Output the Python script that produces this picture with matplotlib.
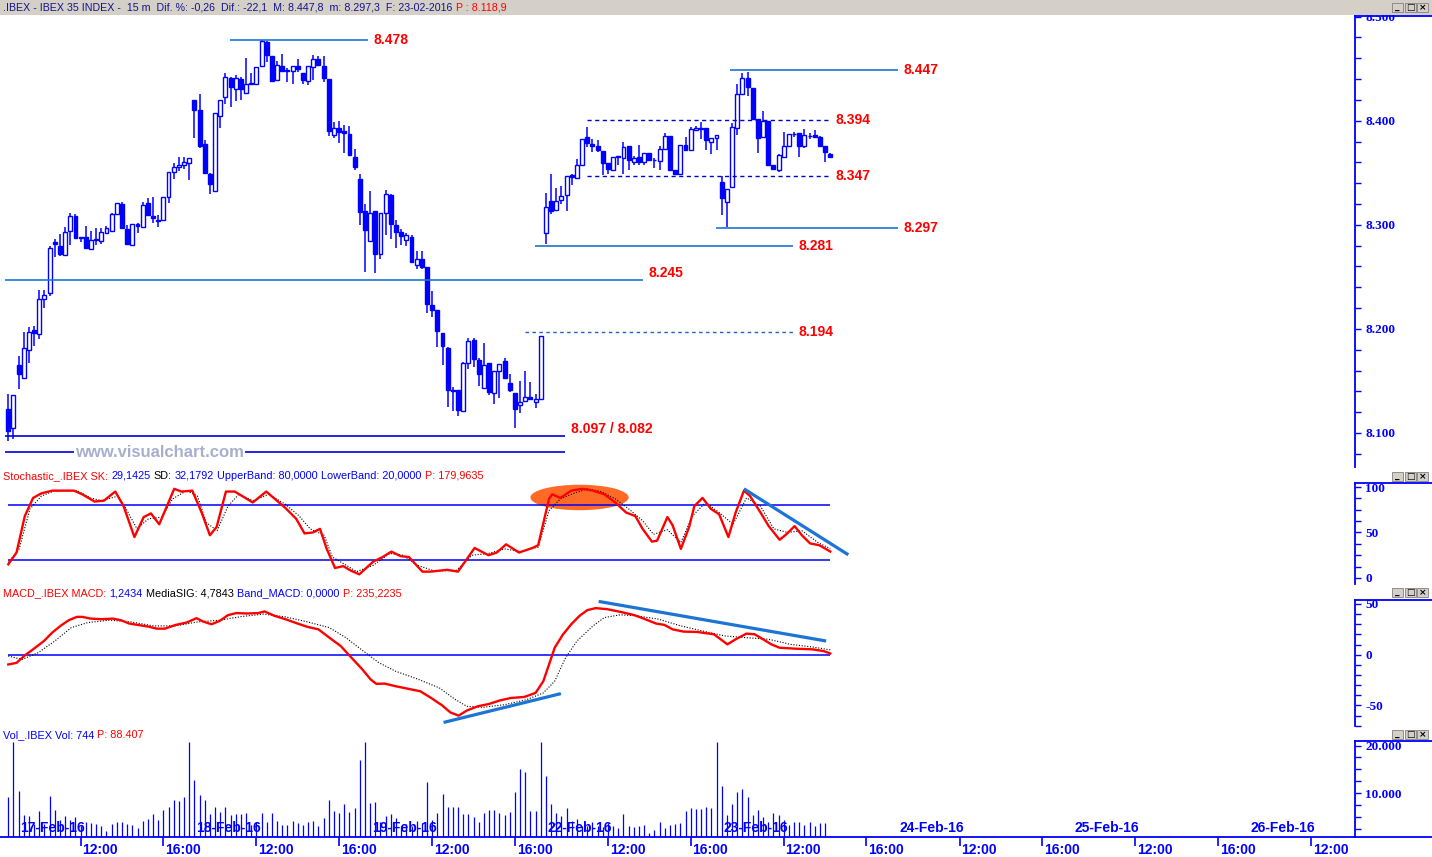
import numpy as np
import matplotlib
matplotlib.use("Agg")
import matplotlib.pyplot as plt
from matplotlib.patches import Rectangle, Ellipse
from matplotlib.lines import Line2D
from matplotlib.ticker import MultipleLocator, FuncFormatter

plt.rcParams['font.family'] = ['Liberation Sans', 'DejaVu Sans']

# ---- datos (velas de 15 m, IBEX 35, 16-feb 17:15 -> 23-feb 14:30) ----
opens = [8123, 8105, 8165, 8153, 8180, 8199, 8195, 8229, 8234, 8283, 8280, 8271, 8294, 8308, 8288, 8288,
         8277, 8285, 8284, 8292, 8294, 8310, 8320, 8296, 8281, 8301, 8298, 8321, 8308, 8305, 8305, 8327,
         8351, 8356, 8357, 8359, 8420, 8410, 8378, 8349, 8332, 8405, 8423, 8441, 8430, 8440, 8427, 8436,
         8435, 8453, 8476, 8462, 8439, 8453, 8448, 8448, 8453, 8446, 8438, 8452, 8459, 8453, 8440, 8386,
         8393, 8390, 8387, 8365, 8344, 8313, 8284, 8313, 8272, 8311, 8329, 8300, 8293, 8285, 8288, 8261,
         8267, 8259, 8223, 8218, 8196, 8182, 8141, 8141, 8121, 8167, 8189, 8170, 8143, 8167, 8138, 8160,
         8169, 8148, 8138, 8127, 8131, 8135, 8130, 8133, 8292, 8323, 8314, 8324, 8329, 8348, 8345, 8357,
         8384, 8378, 8376, 8371, 8359, 8353, 8365, 8364, 8376, 8360, 8365, 8360, 8369, 8362, 8361, 8373,
         8385, 8353, 8349, 8377, 8372, 8391, 8392, 8393, 8380, 8383, 8341, 8322, 8336, 8393, 8426, 8441,
         8431, 8402, 8384, 8400, 8357, 8353, 8365, 8376, 8387, 8388, 8376, 8385, 8386, 8384, 8376, 8368]
highs = [8137, 8136, 8174, 8197, 8202, 8203, 8237, 8237, 8280, 8286, 8291, 8298, 8311, 8310, 8288, 8299,
         8294, 8297, 8297, 8299, 8311, 8321, 8322, 8300, 8301, 8302, 8322, 8326, 8327, 8309, 8327, 8351,
         8359, 8365, 8365, 8364, 8420, 8426, 8381, 8350, 8407, 8420, 8446, 8442, 8444, 8442, 8460, 8446,
         8452, 8478, 8477, 8462, 8457, 8464, 8451, 8453, 8459, 8446, 8453, 8463, 8462, 8462, 8440, 8399,
         8400, 8396, 8395, 8373, 8349, 8320, 8332, 8313, 8311, 8333, 8330, 8305, 8296, 8292, 8290, 8275,
         8275, 8259, 8236, 8218, 8196, 8183, 8144, 8141, 8168, 8191, 8191, 8172, 8186, 8167, 8160, 8166,
         8172, 8157, 8138, 8150, 8160, 8149, 8137, 8193, 8331, 8349, 8335, 8337, 8347, 8349, 8363, 8382,
         8394, 8382, 8381, 8371, 8359, 8365, 8366, 8380, 8376, 8366, 8377, 8369, 8369, 8364, 8376, 8388,
         8385, 8353, 8377, 8384, 8394, 8395, 8399, 8393, 8383, 8386, 8347, 8334, 8398, 8435, 8446, 8447,
         8431, 8402, 8409, 8400, 8357, 8368, 8389, 8387, 8389, 8388, 8392, 8388, 8391, 8385, 8376, 8369]
lows = [8092, 8094, 8142, 8153, 8167, 8184, 8190, 8220, 8232, 8269, 8270, 8271, 8281, 8287, 8283, 8278,
        8277, 8281, 8282, 8292, 8294, 8310, 8296, 8281, 8281, 8292, 8298, 8308, 8302, 8298, 8305, 8321,
        8344, 8352, 8354, 8343, 8383, 8374, 8349, 8330, 8332, 8393, 8416, 8413, 8419, 8420, 8427, 8435,
        8435, 8453, 8456, 8437, 8439, 8448, 8437, 8435, 8447, 8435, 8434, 8439, 8454, 8437, 8385, 8383,
        8379, 8369, 8366, 8353, 8300, 8255, 8284, 8254, 8267, 8290, 8286, 8278, 8281, 8280, 8264, 8258,
        8258, 8215, 8211, 8183, 8165, 8125, 8121, 8116, 8121, 8161, 8163, 8145, 8143, 8136, 8128, 8134,
        8153, 8139, 8105, 8119, 8131, 8133, 8124, 8133, 8282, 8310, 8314, 8320, 8313, 8338, 8345, 8357,
        8375, 8370, 8370, 8348, 8349, 8353, 8357, 8349, 8353, 8357, 8357, 8357, 8362, 8355, 8353, 8373,
        8353, 8348, 8349, 8372, 8372, 8390, 8382, 8372, 8368, 8372, 8309, 8298, 8336, 8386, 8426, 8424,
        8402, 8369, 8384, 8357, 8354, 8351, 8365, 8376, 8384, 8365, 8374, 8382, 8383, 8376, 8360, 8364]
closes = [8102, 8136, 8157, 8182, 8197, 8196, 8229, 8233, 8278, 8282, 8272, 8293, 8308, 8287, 8287, 8278,
          8285, 8286, 8293, 8297, 8310, 8321, 8297, 8282, 8301, 8299, 8319, 8309, 8307, 8304, 8327, 8351,
          8356, 8357, 8360, 8364, 8410, 8376, 8350, 8339, 8407, 8420, 8442, 8432, 8441, 8430, 8435, 8435,
          8452, 8477, 8463, 8438, 8454, 8448, 8448, 8453, 8450, 8439, 8453, 8459, 8454, 8441, 8390, 8393,
          8389, 8388, 8367, 8356, 8312, 8295, 8311, 8272, 8311, 8330, 8301, 8293, 8289, 8290, 8264, 8267,
          8259, 8224, 8218, 8198, 8184, 8141, 8140, 8122, 8167, 8188, 8171, 8157, 8165, 8139, 8160, 8166,
          8153, 8141, 8123, 8130, 8135, 8133, 8133, 8193, 8317, 8313, 8323, 8328, 8347, 8346, 8357, 8382,
          8379, 8376, 8372, 8359, 8354, 8365, 8366, 8375, 8362, 8364, 8360, 8369, 8362, 8362, 8373, 8385,
          8353, 8349, 8377, 8372, 8392, 8393, 8393, 8381, 8383, 8386, 8326, 8334, 8394, 8426, 8441, 8432,
          8402, 8383, 8400, 8357, 8354, 8367, 8376, 8387, 8387, 8376, 8386, 8385, 8384, 8376, 8370, 8365]
volumes = [9180, 20700, 10430, 5360, 5220, 3490, 6260, 3490, 9390, 6470, 4320, 5220, 4320, 4870, 3140, 3830,
           3620, 3490, 3140, 2100, 3490, 3970, 3830, 3490, 3350, 2580, 4180, 4530, 5570, 4390, 6470, 6960,
           8550, 8340, 9180, 20700, 12720, 9590, 8550, 5570, 6960, 5910, 7100, 5360, 5570, 5570, 5710, 3280,
           3970, 5770, 3830, 5770, 4180, 3350, 3350, 4180, 3690, 3350, 3970, 4180, 3000, 4670, 8550, 6260,
           5770, 7650, 5910, 6750, 17020, 20700, 7990, 8140, 3830, 5080, 5570, 4670, 3140, 3490, 3140, 4180,
           3690, 12300, 4390, 5710, 9870, 6960, 6960, 6960, 5640, 5640, 4870, 3830, 5710, 6470, 6470, 5770,
           5360, 6050, 10290, 15070, 14380, 6260, 6260, 20700, 13550, 7790, 5770, 5220, 6750, 4180, 4530, 3140,
           3140, 3970, 3140, 2790, 3690, 3140, 2650, 5500, 3140, 2790, 3140, 3280, 1540, 2310, 3970, 2580,
           3280, 3490, 3620, 6260, 6750, 6610, 6610, 6960, 6750, 20700, 11470, 5360, 7790, 10220, 10910, 9180,
           5360, 6470, 4870, 3970, 5770, 5360, 4320, 3350, 3830, 3830, 3280, 3970, 3000, 3690, 3690, 744]

sk_x = [0, 1.6, 3.2, 4.8, 6.4, 8.5, 12.7, 14.3, 16.7, 18.5, 20.7, 22.3, 24.4, 26.2, 27.6, 29.2, 32.1, 33.5,
        35.6, 37.4, 39, 40.3, 42.1, 43.8, 47.3, 49.9, 53.6, 55.7, 57.3, 58.9, 60.3, 61.6, 63.2, 64.8, 66.3,
        67.9, 70.6, 72.4, 74.1, 75.9, 77.5, 80.1, 81.7, 84.9, 87, 90.2, 92.9, 94.5, 96.3, 98.8, 101.4, 102.5,
        104.6, 105.2, 106.8, 108.9, 111, 113.1, 115.3, 117.4, 119.5, 121.3, 122.7, 124.5, 125.5, 127.5,
        128.5, 130.1, 131.7, 132.7, 134.3, 135.9, 137.5, 139.3, 140.7, 142.3, 143.5, 145.5, 147.1, 149.2,
        150.5, 152.1, 153.5, 155.1, 156.9, 159]
sk_y = [15, 28, 68, 88, 93, 96, 96, 92, 84, 85, 95, 79, 45, 67, 71, 59, 98, 95, 96, 72, 47, 56, 95, 95, 83,
        95, 77, 65, 49, 50, 54, 32, 11, 13, 8, 4, 18, 23, 29, 24, 23, 7, 7, 9, 7, 33, 25, 28, 37, 28, 33, 36,
        87, 92, 88, 96, 98, 96, 92, 83, 72, 68, 54, 40, 41, 67, 58, 32, 56, 79, 88, 76, 70, 45, 72, 96, 90,
        72, 57, 42, 48, 57, 47, 38, 36, 29.1]
sd_x = [0, 2.1, 4.2, 6.4, 9, 13.3, 15.9, 18, 21.2, 22.8, 24.9, 27.1, 29.7, 31.8, 34.5, 36.6, 38.3, 40.4,
        42.5, 44.6, 47.3, 50.4, 53.6, 56.3, 58.4, 61.1, 62.7, 64.8, 67.4, 70.6, 73.8, 76.4, 79.1, 82.3, 86.6,
        89.7, 92.9, 96, 99.2, 102.5, 104.6, 106.8, 109.4, 112, 114.7, 117.4, 120, 122.7, 124.8, 127.5, 130.1,
        132.3, 134.9, 137.5, 140.2, 142.8, 145.5, 148.1, 150.8, 153.5, 156.6, 159]
sd_y = [17, 32, 76, 90, 96, 96, 88, 85, 90, 76, 54, 65, 67, 87, 96, 90, 61, 52, 79, 92, 85, 92, 81, 68, 54,
        47, 23, 16, 7, 14, 27, 25, 14, 8, 8, 25, 27, 32, 29, 34, 74, 87, 93, 98, 95, 87, 76, 63, 48, 53, 39,
        68, 83, 72, 59, 88, 79, 54, 50, 52, 39, 32.2]

# MACD (rojo) y senal MediaSIG (punteado)
macd_x = [0, 1.6, 3.2, 4.8, 6.9, 8.5, 10.1, 11.7, 13.3, 14.3, 15.9, 18, 20.2, 21.8, 23.4, 25.5, 27.1, 28.7,
          30.3, 32.4, 34.5, 36.4, 37.7, 39.3, 40.9, 42.5, 44.1, 46.2, 48.3, 49.6, 51.5, 53.6, 55.8, 57.9, 60,
          62.1, 64.3, 66.4, 68.5, 70.1, 71.2, 72.8, 74.9, 77.5, 79.7, 81.8, 83.9, 85.5, 87.1, 88.7, 90.8, 93,
          95.1, 97.2, 99.8, 102, 103.5, 104.6, 105.7, 107.3, 108.9, 110.5, 112, 113.6, 115.8, 118.4, 121.1,
          123.2, 125.3, 126.9, 128.5, 130.6, 133.3, 136.5, 137.8, 139.1, 140.7, 142.8, 144.4, 146, 147.6,
          149.2, 152.4, 155.6, 157.7, 159]
macd_y = [-9.6, -8, -0.7, 5.3, 13.5, 21.8, 28.4, 34, 37.3, 37.3, 35.6, 35, 35.6, 34, 30.7, 29, 27.7, 25.7,
          25.7, 29.4, 31.7, 36, 32.7, 30, 33.3, 39, 41, 40.6, 41, 42.6, 38.3, 35, 31, 27.4, 25, 16.8, 8.6, -3,
          -14.5, -24.4, -28.7, -28.4, -31, -33.7, -36, -42.6, -49.8, -56.8, -60, -55, -50.8, -48.5, -45, -42.6,
          -41.6, -37.6, -26, -9.6, 7, 20, 30, 38.3, 43.9, 45.9, 44.9, 42.2, 39, 35, 30.7, 29.4, 25, 22.8, 22.4,
          20.1, 15.2, 10.2, 15.2, 20.8, 20.1, 15.2, 10.2, 6.9, 5.9, 5.3, 3.6, 1.24]
sig_x = [0, 2.7, 5.8, 9, 12.2, 15.4, 19.6, 23.8, 28.1, 32.4, 36.6, 40.9, 45.1, 49.4, 53.6, 57.9, 62.1, 65.3,
         68.5, 71.7, 74.9, 79.1, 83.4, 86.5, 88.7, 91.8, 96, 100.3, 103.5, 105.7, 107.8, 110, 113.1, 115.3,
         118.4, 121.6, 125.8, 130.1, 134.3, 138.6, 142.8, 147.1, 151.3, 155.6, 159]
sig_y = [-1.3, -4.6, 2, 13.5, 26.7, 31.7, 34, 32.3, 28.4, 28.4, 32.3, 34, 37.6, 40, 37.3, 32.3, 26.7, 16.8,
         4.3, -7.9, -16.2, -23.8, -32.7, -44.2, -50.8, -51.8, -49.2, -44.2, -37.6, -26, -3, 13.5, 28.4, 36.6,
         39.3, 38.3, 35, 28.4, 23.4, 18.5, 16.8, 15.2, 10.2, 7.6, 4.78]

# niveles marcados a mano en el grafico principal (valor rotulado y altura a la que esta trazada la linea)
levels = [8478, 8447, 8394, 8347, 8297, 8281, 8245, 8194]
level_drawn = [8478, 8449, 8401, 8347, 8297, 8280, 8247, 8197]
level_start = [42.9, 139.6, 111.9, 111.9, 136.9, 101.9, -0.6, 99.9]
level_end = [69.6, 172.1, 158.9, 158.9, 172.1, 151.8, 122.8, 151.8]
level_style = ['solid', 'solid', 'dashed', 'dashed', 'solid', 'solid', 'solid', 'dotted']
supports = [8097, 8082]

day_labels = ['17-Feb-16', '18-Feb-16', '19-Feb-16', '22-Feb-16',
              '23-Feb-16', '24-Feb-16', '25-Feb-16', '26-Feb-16']
BARS_DAY = 34
FIRST_DAY = 2
XMIN, XMAX = -1.6, 260.5

BLUE = '#0000ff'
LBLUE = '#1c74d4'
RED = '#ff0000'
W, H = 1432, 857

fig = plt.figure(figsize=(W / 100, H / 100), dpi=100)


def px_axes(left, top, right, bottom):
    return fig.add_axes([left / W, 1 - bottom / H, (right - left) / W, (bottom - top) / H])


def style(a, ymin, ymax, major, minor, fmt):
    a.set_ylim(ymin, ymax)
    for s in ['top', 'left', 'bottom']:
        a.spines[s].set_visible(False)
    a.spines['right'].set_color(BLUE)
    a.spines['right'].set_linewidth(1.3)
    a.yaxis.tick_right()
    a.yaxis.set_major_locator(MultipleLocator(major))
    a.yaxis.set_minor_locator(MultipleLocator(minor))
    a.yaxis.set_major_formatter(FuncFormatter(fmt))
    a.tick_params(axis='y', which='both', direction='out', length=4.5, width=1,
                  color=BLUE, labelcolor=BLUE, pad=3, labelsize=9.5)
    a.set_xticks([])
    a.set_xlim(XMIN, XMAX)
    for lab in a.get_yticklabels():
        lab.set_fontfamily('Liberation Serif')
        lab.set_fontweight('bold')


ax = px_axes(0, 16, 1355, 467)
ax_st = px_axes(0, 483, 1355, 584)
ax_md = px_axes(0, 600, 1355, 726)
ax_vo = px_axes(0, 741, 1355, 837)

style(ax, 8067.3, 8500.6, 100, 20, lambda v, p: f"{v / 1000:.3f}")
style(ax_st, -6.6, 104.4, 50, 12.5, lambda v, p: f"{v:.0f}")
style(ax_md, -70.2, 53.9, 50, 10, lambda v, p: f"{v:.0f}")
style(ax_vo, 737, 20950, 10000, 2500, lambda v, p: f"{int(v):,}".replace(',', '.'))

# ---- velas ----
idx = np.arange(len(opens))
ax.vlines(idx, lows, highs, color=BLUE, lw=1.1, zorder=2)
for i in idx:
    o, c = opens[i], closes[i]
    bull = c >= o
    ax.add_patch(Rectangle((i - 0.38, min(o, c)), 0.76, max(abs(c - o), 0.6),
                           facecolor='white' if bull else BLUE, edgecolor=BLUE, lw=1.0, zorder=3))

for lv, yd, x0, x1, ls in zip(levels, level_drawn, level_start, level_end, level_style):
    if ls == 'solid':
        ax.hlines(yd, x0, x1, color=LBLUE, lw=1.2, zorder=4)
    elif ls == 'dashed':
        ax.hlines(yd, x0, x1, color='#0000cc', lw=1.0, linestyles=(0, (3, 2.5)), zorder=4)
    else:
        ax.hlines(yd, x0, x1, color='#2060c0', lw=1.0, linestyles=(0, (2.5, 2.5)), zorder=4)
    va = 'bottom' if lv == 8245 else 'center'
    ax.text(x1 + 1.1, yd, f"{lv / 1000:.3f}", color=RED, fontsize=10, fontweight='bold',
            va=va, ha='left', zorder=5)

for lv in supports:
    ax.hlines(lv, -0.6, 107.7, color='#0000e0', lw=1.2, zorder=4)
ax.text(108.8, supports[0], f"{supports[0] / 1000:.3f} / {supports[1] / 1000:.3f}", color=RED,
        fontsize=10, fontweight='bold', va='bottom', ha='left', zorder=5)
ax.text(12.9, 8081.5, "www.visualchart.com", color='#a8afcc', fontsize=12, fontweight='bold',
        va='center', ha='left', zorder=6,
        bbox=dict(facecolor='white', edgecolor='none', pad=0.5))

# ---- estocastico ----
ax_st.add_patch(Ellipse((110.5, 88.5), 19, 28, facecolor='#ff6a26', edgecolor='none', zorder=1))
ax_st.hlines([80, 20], 0, 159, color=BLUE, lw=1.1, zorder=2)
ax_st.plot(sd_x, sd_y, color='black', lw=0.8, ls=(0, (1, 1.5)), zorder=3)
ax_st.plot(sk_x, sk_y, color=RED, lw=1.7, zorder=4)
ax_st.plot([142.3, 162.5], [98, 25.5], color=LBLUE, lw=2.3, zorder=5, solid_capstyle='butt')

# ---- MACD ----
ax_md.hlines(0, 0, 159, color=BLUE, lw=1.1, zorder=2)
ax_md.plot(sig_x, sig_y, color='black', lw=0.8, ls=(0, (1, 1.5)), zorder=3)
ax_md.plot(macd_x, macd_y, color=RED, lw=1.7, zorder=4)
ax_md.plot([114.2, 158.2], [52.5, 13.5], color=LBLUE, lw=2.3, zorder=5, solid_capstyle='butt')
ax_md.plot([84.2, 106.9], [-66.7, -38.3], color=LBLUE, lw=2.3, zorder=5, solid_capstyle='butt')

# ---- volumen y eje de tiempo ----
ax_vo.vlines(idx, 0, volumes, color=BLUE, lw=0.9, zorder=2)
ax_vo.spines['bottom'].set_visible(True)
ax_vo.spines['bottom'].set_color(BLUE)
ax_vo.spines['bottom'].set_linewidth(1.3)
days = np.arange(len(day_labels))
noon = FIRST_DAY + 12 + BARS_DAY * days
four = FIRST_DAY + 28 + BARS_DAY * days
ticks = np.sort(np.concatenate([noon, four]))
ticks = ticks[ticks < XMAX]
ax_vo.set_xticks(ticks)
ax_vo.set_xticklabels([])
ax_vo.tick_params(axis='x', direction='out', length=6.5, width=1.2, color=BLUE)
ax_vo.set_xlim(XMIN, XMAX)
xt = ax_vo.get_xaxis_transform()
for t in ticks:
    ax_vo.text(t + 0.35, -0.135, '12:00' if t in noon else '16:00', transform=xt, color=BLUE,
               fontsize=10, fontweight='bold', ha='left', va='center', clip_on=False)
for d, lab in zip(days, day_labels):
    ax_vo.text(FIRST_DAY + BARS_DAY * d + 0.3, 0.02, lab, transform=xt,
               color=BLUE, fontsize=10, fontweight='bold', ha='left', va='bottom', zorder=5)

# ---- cabeceras y marco ----
fig.add_artist(Rectangle((0, 1 - 15 / H), 1, 15 / H, transform=fig.transFigure,
                         facecolor='#d4d0c8', edgecolor='none', zorder=8))
for y in [16, 483, 600, 741, 837]:
    fig.add_artist(Line2D([1355 / W, 1], [1 - y / H] * 2, transform=fig.transFigure,
                          color=BLUE, lw=1.3, zorder=9))


def buttons(y):
    for k, sym in enumerate(['_', '□', '×']):
        x0 = 1392 + k * 12.5
        fig.add_artist(Rectangle((x0 / W, 1 - (y + 9) / H), 11 / W, 9 / H, transform=fig.transFigure,
                                 facecolor='#d4d0c8', edgecolor='#808080', lw=0.6, zorder=10))
        fig.text((x0 + 5.5) / W, 1 - (y + 4.3) / H, sym, fontsize=6.5, fontweight='bold',
                 ha='center', va='center', color='black', zorder=11, family='DejaVu Sans')


for y in [3, 472, 588, 730]:
    buttons(y)

renderer = fig.canvas.get_renderer()


def rich(x, y, parts, size=7.8):
    for s, c in parts:
        t = fig.text(x / W, 1 - y / H, s, color=c, fontsize=size, ha='left', va='center', zorder=12)
        x += t.get_window_extent(renderer=renderer).width + 3.2


rich(3, 7, [(".IBEX - IBEX 35 INDEX -  15 m  Dif. %: -0,26  Dif.: -22,1  M: 8.447,8  m: 8.297,3  "
             "F: 23-02-2016", '#14148c'), ("P : 8.118,9", RED)], size=7.7)
rich(3, 476, [("Stochastic_.IBEX SK:", RED), ("29,1425", BLUE), ("SD:", 'black'), ("32,1792", BLUE),
              ("UpperBand: 80,0000", BLUE), ("LowerBand: 20,0000", BLUE), ("P: 179,9635", RED)])
rich(3, 593, [("MACD_.IBEX MACD:", RED), ("1,2434", BLUE), ("MediaSIG: 4,7843", 'black'),
              ("Band_MACD: 0,0000", BLUE), ("P: 235,2235", RED)])
rich(3, 735, [("Vol_.IBEX Vol: 744", BLUE), ("P: 88.407", RED)])

fig.savefig('out.png', dpi=100, facecolor='white')
